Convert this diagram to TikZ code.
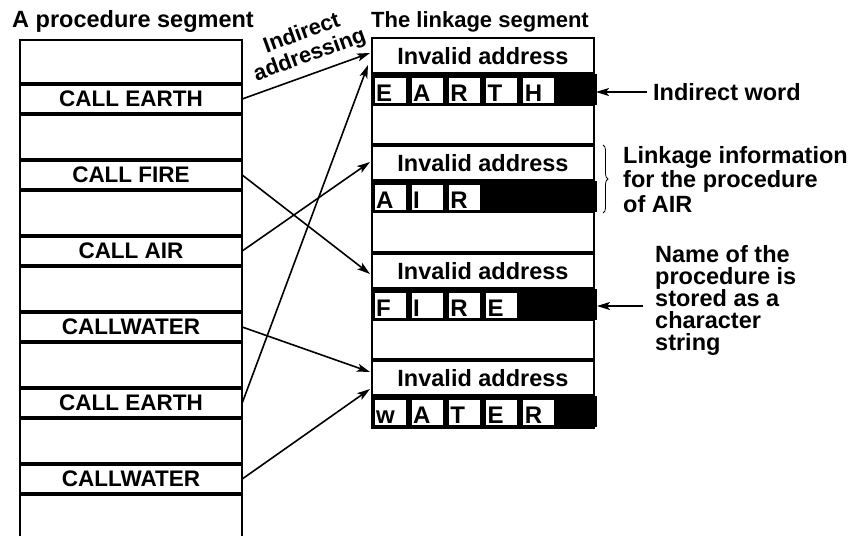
\documentclass[tikz,border=0pt]{standalone}
\usepackage{fontspec}
\setmainfont{Liberation Sans}
\usetikzlibrary{arrows.meta}
\usetikzlibrary{decorations.pathreplacing}

\begin{document}
\begin{tikzpicture}
[x=1pt,y=-1pt,every node/.style={inner sep=0pt,font=\bfseries\fontsize{23.5}{24.5}\selectfont},
 callbox/.style={minimum width=222pt,minimum height=30pt,font=\bfseries\fontsize{22.5}{24}\selectfont},
 hdrbox/.style={minimum width=222pt,minimum height=36pt},
 letterbox/.style={anchor=north west,fill=white,draw,line width=1pt,minimum height=26pt,
   text width=28pt,text height=21.5pt,inner xsep=2pt,align=left,font=\bfseries\fontsize{24}{24}\selectfont},
 sepline/.style={line width=4pt},
 border/.style={line width=2.5pt},
 ptr/.style={line width=1.6pt,-{Stealth[length=13pt,width=8pt,inset=3pt]}}]

  \useasboundingbox (0,0) rectangle (858,536);

  \node[anchor=base west] (proctitle) at (12,27) {A procedure segment};
  \node[anchor=base west,font=\bfseries\fontsize{22}{23}\selectfont] (linktitle) at (371,27) {The linkage segment};

  \draw[border] (20,536) -- (20,40) -- (242,40) -- (242,536);
  \node[callbox] (earth1) at (131,99)  {CALL EARTH};
  \node[callbox] (fire)   at (131,175) {CALL FIRE};
  \node[callbox] (air)    at (131,251) {CALL AIR};
  \node[callbox] (water1) at (131,327) {CALLWATER};
  \node[callbox] (earth2) at (131,403) {CALL EARTH};
  \node[callbox] (water2) at (131,479) {CALLWATER};

  \foreach \c in {earth1,fire,air,water1,earth2,water2}
  {
    \draw[sepline] (\c.north west) -- (\c.north east);
    \draw[sepline] (\c.south west) -- (\c.south east);
  }

  \draw[border] (372,38) rectangle (594,428);
  \node[hdrbox] (inv1) at (483,56)  {Invalid address};
  \node[hdrbox] (inv2) at (483,163) {Invalid address};
  \node[hdrbox] (inv3) at (483,271) {Invalid address};
  \node[hdrbox] (inv4) at (483,378) {Invalid address};

  \foreach \h in {inv2,inv3,inv4}
    \draw[sepline] (\h.north west) -- (\h.north east);

  \foreach \t/\word [count=\r] in {74/{E,A,R,T,H},181/{A,I,R},289/{F,I,R,E},396/{w,A,T,E,R}}
  {
    \fill (372,\t) rectangle (597,\t+31);
    \draw[border] (372,\t+31) -- (594,\t+31);
    \foreach \l [count=\k from 0] in \word
      \node[letterbox] (ch\r\k) at (373.5+37.2*\k,\t+3) {\l};
  }
  \foreach \h in {inv1,inv2,inv3,inv4}
    \draw[sepline] (\h.south west) -- (\h.south east);

  \node[rotate=20,align=center,font=\bfseries\fontsize{22}{23}\selectfont] (indaddr) at (306,45) {Indirect\\addressing};

  \coordinate (toEarthA) at (370,53);
  \coordinate (toEarthB) at (368,65);
  \coordinate (toAir)    at (370,162);
  \coordinate (toFire)   at (370,274);
  \coordinate (toWaterA) at (370,372);
  \coordinate (toWaterB) at (370,389);

  \foreach \from/\to in {earth1/toEarthA,earth2/toEarthB,fire/toFire,air/toAir,water1/toWaterA,water2/toWaterB}
    \draw[ptr] (\from.east) -- (\to);

  \node[anchor=west] (indword) at (653,92) {Indirect word};
  \coordinate (iwTail) at (647,92);
  \coordinate (iwTip)  at (596,92);
  \draw[ptr] (iwTail) -- (iwTip);

  \draw[decorate,decoration={brace,amplitude=5pt},line width=0.8pt] (603,145) -- (603,213);
  \node[anchor=north west,align=left] (linkinfo) at (623,146) {Linkage information\\for the procedure\\of AIR};

  \node[anchor=north west,align=left,font=\bfseries\fontsize{23.5}{22}\selectfont] (namenote) at (655,245)
    {Name of the\\procedure is\\stored as a\\character\\string};
  \coordinate (nameTail) at (643,306);
  \coordinate (nameTip)  at (597,306);
  \draw[ptr] (nameTail) -- (nameTip);

\end{tikzpicture}
\end{document}
